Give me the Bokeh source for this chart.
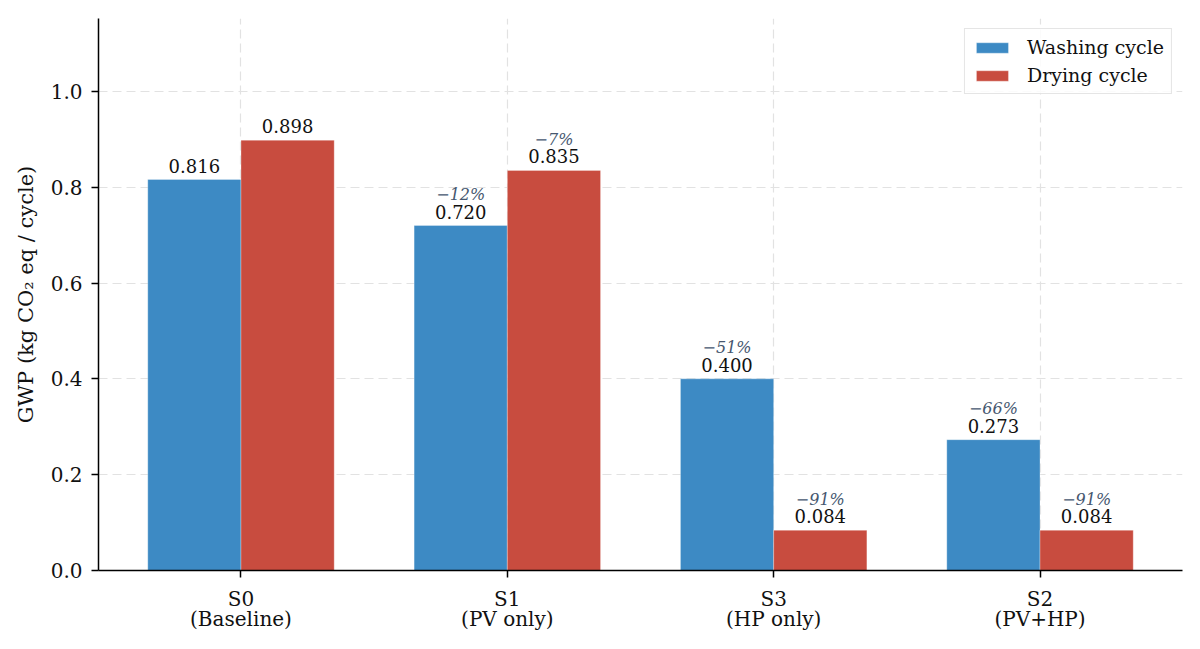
import numpy as np
from bokeh.plotting import figure
from bokeh.models import ColumnDataSource, Range1d, FixedTicker, PrintfTickFormatter
from bokeh.transform import dodge
from bokeh.core.properties import value
from bokeh.embed import file_html
from bokeh.resources import INLINE

# ---- data ----
scenarios = ["S0", "S1", "S3", "S2"]
scenario_desc = ["(Baseline)", "(PV only)", "(HP only)", "(PV+HP)"]
washing = [0.816, 0.720, 0.400, 0.273]
drying = [0.898, 0.835, 0.084, 0.084]
washing_change = ["", "\u221212%", "\u221251%", "\u221266%"]
drying_change = ["", "\u22127%", "\u221291%", "\u221291%"]
y_ticks = [0.0, 0.2, 0.4, 0.6, 0.8, 1.0]

FONT = "DejaVu Serif"
BLUE = "#3d8ac4"
RED = "#c84c3f"
PCT_COLOR = "#46576f"
BAR_W = 0.35

idx = list(range(len(scenarios)))
src = ColumnDataSource(dict(
    x=idx,
    wash=washing,
    dry=drying,
    wash_lbl=[f"{v:.3f}" for v in washing],
    dry_lbl=[f"{v:.3f}" for v in drying],
    wash_pct=washing_change,
    dry_pct=drying_change,
))

p = figure(width=1184, height=633, output_backend="svg", toolbar_location=None,
           x_range=Range1d(-0.535, 3.535), y_range=Range1d(0, 1.152),
           min_border_left=98, min_border_right=2, min_border_top=18,
           min_border_bottom=63)
p.outline_line_color = None
p.background_fill_color = "white"

# grid
p.grid.grid_line_color = "#e2e2e2"
p.grid.grid_line_dash = "9 5"
p.grid.grid_line_width = 1.2

# bars
p.vbar(x=dodge("x", -BAR_W / 2), top="wash", width=BAR_W, source=src,
       fill_color=BLUE, line_color="white", line_width=0.6, line_alpha=0.5,
       legend_label="Washing cycle")
p.vbar(x=dodge("x", BAR_W / 2), top="dry", width=BAR_W, source=src,
       fill_color=RED, line_color="white", line_width=0.6, line_alpha=0.5,
       legend_label="Drying cycle")

# value labels
for off, col, pct in [(-BAR_W / 2, "wash", "wash_pct"), (BAR_W / 2, "dry", "dry_pct")]:
    p.text(x=dodge("x", off), y=col, text=col + "_lbl", source=src,
           text_align="center", text_baseline="alphabetic", y_offset=-14,
           text_font=value(FONT), text_font_size="18px", text_color="#111111")
    p.text(x=dodge("x", off), y=col, text=pct, source=src,
           text_align="center", text_baseline="alphabetic", y_offset=-31,
           text_font=value(FONT), text_font_size="16px", text_font_style="italic",
           text_color=PCT_COLOR)

# axes
p.xaxis.ticker = FixedTicker(ticks=idx)
p.xaxis.major_label_overrides = {i: f"{s}\n{d}" for i, s, d in zip(idx, scenarios, scenario_desc)}
p.yaxis.ticker = FixedTicker(ticks=y_ticks)
p.yaxis.formatter = PrintfTickFormatter(format="%.1f")
p.yaxis.axis_label = "GWP (kg CO\u2082 eq / cycle)"

for ax in (p.xaxis, p.yaxis):
    ax.axis_line_color = "black"
    ax.axis_line_width = 1.5
    ax.major_tick_line_color = "black"
    ax.major_tick_line_width = 1.5
    ax.major_tick_out = 7
    ax.major_tick_in = 0
    ax.minor_tick_line_color = None
    ax.major_label_text_font = FONT
    ax.major_label_text_font_size = "20px"
    ax.major_label_text_color = "#111111"
    ax.axis_label_text_font = FONT
    ax.axis_label_text_font_size = "21px"
    ax.axis_label_text_font_style = "normal"
    ax.axis_label_text_color = "#111111"

p.yaxis.major_label_standoff = 9
p.yaxis.axis_label_standoff = 10
p.xaxis.major_label_standoff = 9
p.xaxis.major_label_text_line_height = 0.85

# legend
lg = p.legend[0]
lg.location = "top_right"
lg.margin = 10
lg.padding = 7
lg.spacing = 6
lg.glyph_width = 40
lg.glyph_height = 13
lg.label_standoff = 15
lg.label_text_font = FONT
lg.label_text_font_size = "19px"
lg.label_text_color = "#111111"
lg.border_line_color = "#cccccc"
lg.border_line_width = 1.5
lg.background_fill_alpha = 0.85

open("out.html", "w").write(file_html(p, INLINE))
